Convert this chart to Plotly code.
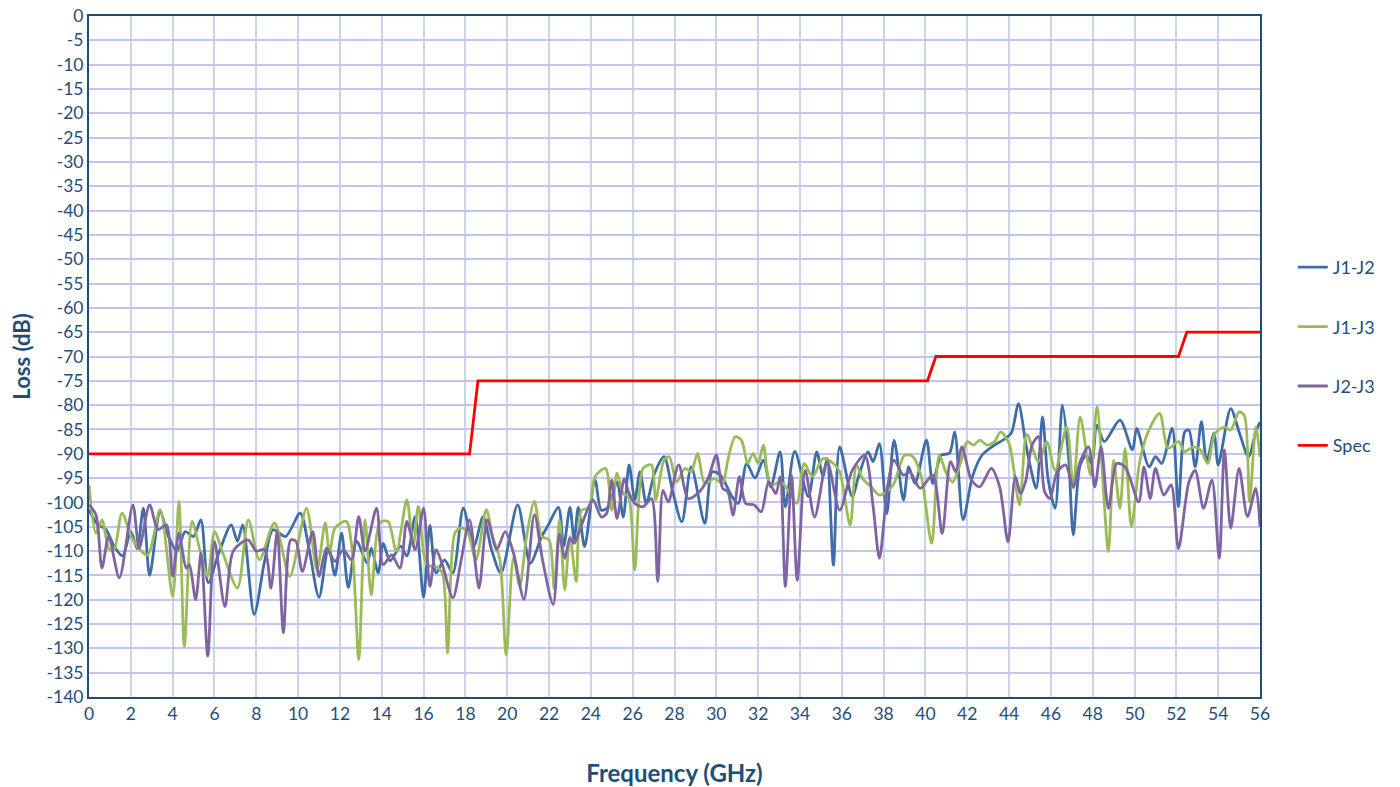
import plotly.graph_objects as go

# ---- data ----
j12_f = [0, 0.4, 0.8, 1.2, 1.6, 2.0, 2.3, 2.6, 2.9, 3.4, 3.8, 4.2, 4.6, 5.0, 5.35, 5.7, 6.2, 6.8, 7.1, 7.35,
         7.9, 8.4, 8.8, 9.4, 10.1, 10.5, 11.0, 11.45, 11.76, 12.08, 12.4, 12.8, 13.3, 13.5, 13.83, 14.07, 14.4,
         14.9, 15.2, 15.6, 16.0, 16.3, 16.6, 17.0, 17.4, 17.9, 18.4, 18.85, 19.25, 19.7, 20.5, 21.1, 21.65,
         21.97, 22.45, 22.7, 23.0, 23.2, 23.4, 23.7, 24.2, 24.5, 24.85, 25.25, 25.55, 25.83, 26.1, 26.35,
         26.65, 27.05, 27.5, 27.9, 28.35, 28.8, 29.45, 29.8, 30.2, 30.75, 31.05, 31.45, 31.85, 32.25, 32.6,
         33.05, 33.3, 33.75, 34.4, 34.8, 35.1, 35.3, 35.6, 35.9, 36.5, 36.8, 37.25, 37.5, 37.8, 38.15, 38.5,
         38.95, 39.2, 39.5, 40.05, 40.35, 40.75, 41.15, 41.4, 41.8, 42.25, 42.7, 43.3, 43.7, 44.1, 44.45,
         44.8, 45.0, 45.3, 45.6, 45.86, 46.2, 46.55, 46.84, 47.07, 47.4, 47.7, 47.95, 48.2, 48.55, 49.3,
         49.9, 50.1, 50.7, 51.0, 51.3, 51.8, 52.1, 52.4, 52.6, 52.9, 53.2, 53.45, 53.8, 54.0, 54.6, 55.0,
         55.45, 55.8, 56.0]
j12_v = [-101.5, -104.5, -105.5, -109, -111, -106, -109.5, -101.2, -115, -102, -107, -110, -106, -107, -103.6,
         -116.5, -110.5, -104.6, -108, -104.6, -123, -112, -105.6, -107, -102.2, -109, -119.5, -109, -115,
         -106.3, -117.5, -108, -112.5, -109.4, -114.5, -108.4, -112, -109, -111, -102.9, -119.5, -104.7,
         -114.5, -111.8, -114.5, -101.2, -109, -102.9, -109.7, -114.5, -100.5, -112.5, -107, -104.6, -101,
         -109, -101, -107.7, -101, -109.1, -95.4, -101.6, -100.9, -95.8, -103, -92.3, -99.5, -93.7, -100.2,
         -94, -90.6, -97.5, -104, -92.7, -104.3, -93.7, -94.4, -98.8, -100.2, -92, -95, -91.3, -96.8, -89.6,
         -100.9, -89.5, -98.8, -89.6, -94.7, -91, -112.9, -88.6, -98.8, -94.7, -89.6, -91.6, -87.9, -102.3,
         -87.2, -99.5, -92.7, -96.1, -87.2, -96.1, -90.3, -89.9, -85.5, -103.6, -94.7, -90.3, -88.2, -87.2,
         -85.8, -79.7, -88, -92.3, -97.1, -82.4, -95, -101.2, -80, -90.3, -106.7, -92.3, -90.3, -92, -84.1,
         -87.5, -83.1, -89.2, -84.8, -92.7, -90.6, -92, -84.8, -100.9, -85.5, -85.1, -92.7, -83.4, -91.6,
         -85.8, -92.3, -80.7, -85.5, -90.6, -85.5, -83.5]

j13_f = [0, 0.33, 0.62, 0.97, 1.2, 1.58, 2.1, 2.8, 3.4, 4.0, 4.3, 4.56, 4.93, 5.28, 5.68, 6.0, 6.4, 7.1, 7.62,
         8.15, 8.87, 9.6, 10.4, 10.9, 11.3, 11.5, 11.76, 12.3, 12.6, 12.9, 13.2, 13.5, 13.9, 14.3, 14.7, 15.2,
         15.5, 15.75, 16.15, 16.6, 16.9, 17.15, 17.5, 17.8, 18.1, 18.5, 19.0, 19.3, 19.65, 19.95, 20.3, 20.6,
         20.9, 21.3, 21.65, 22.0, 22.25, 22.5, 22.75, 23.0, 23.3, 23.55, 23.9, 24.2, 24.7, 25.0, 25.25, 25.55,
         25.8, 26.1, 26.5, 26.9, 27.1, 27.5, 27.75, 28.1, 28.5, 28.8, 29.1, 29.45, 29.9, 30.3, 30.55, 30.9,
         31.2, 31.5, 31.75, 32.0, 32.25, 32.6, 33.1, 33.5, 33.85, 34.2, 34.6, 35.1, 35.6, 35.9, 36.4, 36.7,
         37.0, 37.4, 37.8, 38.15, 38.5, 39.0, 39.4, 39.8, 40.3, 40.66, 41.0, 41.3, 41.7, 42.0, 42.3, 42.6,
         42.95, 43.3, 43.6, 44.0, 44.5, 44.85, 45.4, 45.8, 46.2, 46.76, 47.07, 47.4, 47.9, 48.2, 48.75, 49.0,
         49.3, 49.55, 49.85, 50.25, 50.65, 51.2, 51.6, 52.1, 52.4, 52.8, 53.15, 53.5, 53.85, 54.3, 54.6, 55.0,
         55.25, 55.5, 55.8, 56.0]
j13_v = [-96.4, -106.3, -103.6, -109.7, -109.7, -102.2, -107.7, -110.8, -101.5, -119.3, -99.8, -129.6, -103.9,
         -109.4, -115.2, -106, -110.4, -117.6, -103.6, -111.8, -104.2, -115.2, -101.2, -113.8, -104.2, -110.5,
         -105.3, -103.9, -110.4, -132.3, -103.6, -119, -104.2, -103.9, -110, -99.5, -109, -100.8, -112.8,
         -113.2, -114.5, -131, -106.3, -105.3, -106, -111.8, -101.5, -107, -111.8, -131.4, -111.4, -117.2,
         -107.7, -99.8, -107, -107.7, -117.8, -103.6, -118, -107, -116.3, -101.6, -101.2, -94.7, -93, -101.6,
         -94, -98.2, -98.8, -113.9, -93, -92.3, -99.5, -91.3, -90.6, -95.8, -93, -93.7, -89.9, -96.1, -95.1,
         -96.1, -91.3, -86.5, -87.2, -92, -89.9, -92, -88.2, -96.4, -95.8, -98, -100.2, -92, -94.7, -91, -92,
         -93.7, -104.7, -92.3, -95.1, -96.8, -98.5, -97.8, -96.1, -90.3, -90.6, -94.7, -108.4, -90.3, -94,
         -95.8, -91.6, -87.5, -88.2, -87.2, -88.2, -87.5, -85.5, -87.9, -100.5, -86, -91.6, -87.5, -93.4,
         -84.5, -97.1, -82.4, -94.4, -80.3, -110.1, -91.3, -101.2, -88.9, -105, -91.6, -85.5, -81.7, -88.9,
         -87.5, -89.6, -88.6, -89.2, -92, -85.8, -84.5, -85.1, -81.4, -82.1, -99.9, -84.5, -90.6]

j23_f = [0, 0.33, 0.62, 0.94, 1.45, 2.1, 2.4, 2.9, 3.3, 3.7, 4.0, 4.3, 4.65, 4.8, 5.1, 5.36, 5.68, 6.0, 6.5,
         6.9, 7.6, 8.0, 8.4, 8.7, 9.0, 9.3, 9.65, 9.9, 10.2, 10.7, 11.0, 11.36, 11.76, 12.16, 12.55, 12.9,
         13.2, 13.75, 14.07, 14.47, 14.87, 15.2, 15.6, 16.0, 16.3, 16.6, 16.9, 17.4, 17.8, 18.2, 18.65, 19.05,
         19.5, 19.9, 20.3, 20.8, 21.3, 21.7, 22.2, 22.5, 22.75, 23.0, 23.2, 23.55, 24.1, 24.5, 24.75, 25.0,
         25.25, 25.6, 25.8, 26.1, 26.5, 26.9, 27.2, 27.45, 27.7, 28.2, 28.65, 29.1, 29.6, 30.0, 30.3, 30.55,
         30.8, 31.1, 31.4, 31.8, 32.15, 32.5, 32.85, 33.05, 33.3, 33.6, 33.87, 34.25, 34.7, 35.3, 35.9, 36.5,
         37.1, 37.5, 37.8, 38.2, 38.5, 38.95, 39.25, 39.75, 40.35, 40.8, 41.2, 41.45, 41.75, 42.2, 42.6,
         43.15, 43.55, 43.95, 44.3, 44.55, 44.8, 45.1, 45.4, 45.7, 45.95, 46.3, 46.7, 47.07, 47.4, 47.8, 48.1,
         48.4, 48.75, 49.15, 49.55, 50.2, 50.45, 50.75, 51.0, 51.4, 51.75, 52.1, 52.6, 52.9, 53.3, 53.7,
         54.05, 54.3, 54.6, 55.0, 55.4, 55.8, 56.0]
j23_v = [-100.5, -102.5, -113.5, -107, -115.5, -100.5, -109.4, -100.5, -105.6, -104.6, -115.2, -106.3, -113.5,
         -112.8, -120, -110.4, -131.6, -108, -121.4, -110, -107.7, -110, -109.7, -117.6, -106, -126.8, -107.7,
         -108, -114.2, -106, -115.2, -109.4, -112.1, -109.7, -111.8, -102.9, -110, -101.2, -112.8, -110.8,
         -113.5, -103.9, -109.7, -101.2, -117.3, -109.7, -112.8, -119.6, -111.8, -103.6, -117.6, -103.6,
         -109.7, -106, -110.4, -119.9, -102.5, -112.1, -121, -106.5, -111.5, -107.4, -108.4, -104.7, -99.5,
         -103, -102.3, -95.4, -103.3, -95.1, -97.8, -100.2, -100.9, -99.2, -116.3, -97.5, -99.9, -92.3, -99.2,
         -98.2, -95.1, -90.3, -97.1, -97.8, -102.6, -94.7, -100.2, -100.5, -101.9, -95.8, -98.2, -94.7, -117.3,
         -94.5, -116, -93.4, -103, -91.6, -101.6, -93.4, -90.3, -100.9, -111.5, -96.4, -91.3, -94.4, -93.7,
         -97.1, -94.4, -106.4, -91.6, -93.7, -88.6, -95.4, -96.8, -93, -96.8, -108.1, -94.7, -98.2, -95.5,
         -88.2, -86.5, -97.8, -99.2, -93.7, -92.3, -96.8, -91.6, -88.6, -96.8, -88.6, -101.2, -92, -92.7,
         -99.9, -92.7, -99.2, -93, -98.5, -96.4, -109.5, -95.8, -93.4, -101.2, -95.4, -111.5, -89.2, -105.3,
         -93, -102.9, -97.1, -105]

spec_f = [0, 18.2, 18.6, 40.1, 40.5, 52.1, 52.5, 56]
spec_v = [-90, -90, -75, -75, -70, -70, -65, -65]

x_ticks = list(range(0, 57, 2))
y_ticks = list(range(0, -141, -5))

# ---- figure ----
txt = "#1F4E79"
fig = go.Figure()
series = [
    ("J1-J2", j12_f, j12_v, "#3E6DA8", "spline"),
    ("J1-J3", j13_f, j13_v, "#9BBB59", "spline"),
    ("J2-J3", j23_f, j23_v, "#8064A2", "spline"),
    ("Spec", spec_f, spec_v, "#FF0000", "linear"),
]
for name, f, v, col, shape in series:
    fig.add_trace(go.Scatter(
        x=f, y=v, name=name, mode="lines", legendgroup=name,
        line=dict(color=col, width=2.8, shape=shape, **({"smoothing": 0.8} if shape == "spline" else {})),
    ))

fig.update_layout(
    width=1400, height=787,
    margin=dict(l=89, r=140, t=16, b=90),
    paper_bgcolor="white", plot_bgcolor="white",
    font=dict(family="Lato, 'Open Sans', sans-serif", color=txt, size=17),
    showlegend=True,
    legend=dict(x=1.028, xanchor="left", y=0.5, yanchor="middle",
                font=dict(size=18, color=txt), tracegroupgap=33,
                bgcolor="rgba(0,0,0,0)"),
)
fig.update_xaxes(
    range=[0, 56], tickmode="array", tickvals=x_ticks, ticktext=[str(t) for t in x_ticks],
    showgrid=True, gridcolor="#C9D6EA", gridwidth=1.5, automargin=False,
    showline=True, linecolor=txt, linewidth=2, mirror=True, zeroline=False,
    ticks="", tickfont=dict(size=17.5, color=txt),
    title=dict(text="<b>Frequency (GHz)</b>", font=dict(size=24, color=txt), standoff=42),
)
fig.update_yaxes(
    range=[-140, 0], tickmode="array", tickvals=y_ticks, ticktext=[str(t) for t in y_ticks],
    showgrid=True, gridcolor="#C4C4F2", gridwidth=1.5, automargin=False,
    showline=True, linecolor=txt, linewidth=2, mirror=True, zeroline=False,
    ticks="", tickfont=dict(size=17.5, color=txt),
    title=dict(text="<b>Loss (dB)</b>", font=dict(size=22, color=txt), standoff=10),
)

# remove the page's default body margin so the figure sits at the window's top-left corner
fig.write_html("out.html", config={"displayModeBar": False},
               post_script="document.body.style.margin='0';")
